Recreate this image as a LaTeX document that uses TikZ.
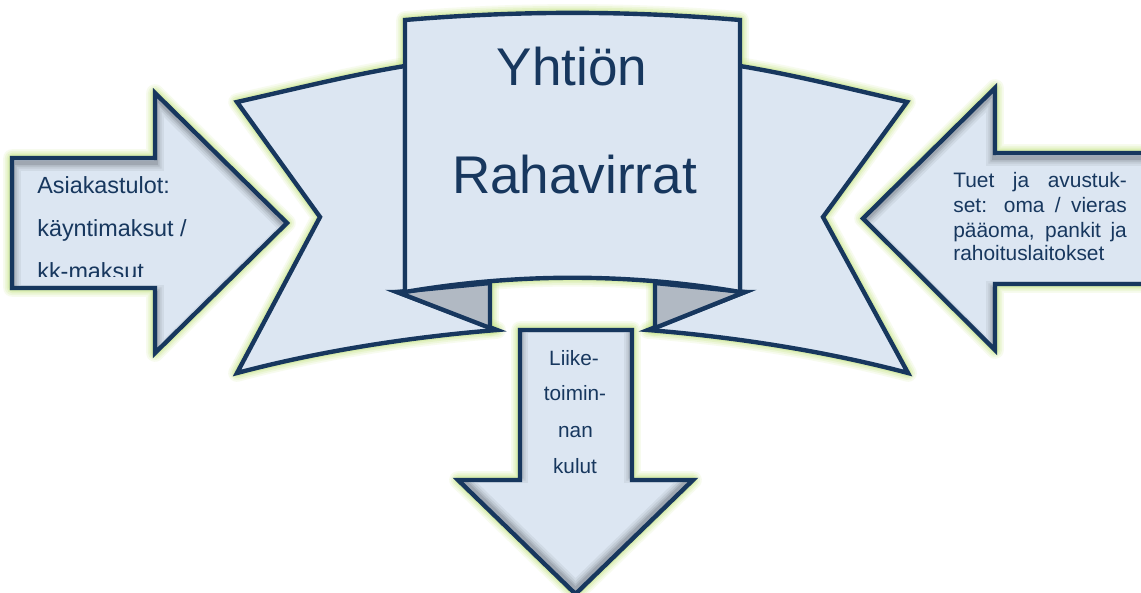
\documentclass[tikz,border=0pt]{standalone}
\usepackage{fontspec}
\setmainfont{Liberation Sans}
\definecolor{navy}{HTML}{17375E}
\definecolor{paleblue}{HTML}{DCE6F2}
\definecolor{foldgray}{HTML}{B1B9C3}
\definecolor{glowgreen}{HTML}{C8E58A}
\definecolor{shadowgray}{HTML}{3A3F47}
\newcommand\myglow[1]{%
  \foreach \w/\o in {10/0.14,8/0.18,6/0.25,4/0.4}{%
    \draw[glowgreen, line join=round, opacity=\o, line width=\w pt] #1;}}
\newcommand\myshadow[2]{%
  \begin{scope}
    \clip #1;
    \foreach \w/\o in {9/0.07,6.5/0.09,4.2/0.12,2.2/0.15}{%
      \draw[shadowgray, line join=miter, opacity=\o, line width=\w pt, shift={#2}] #1;}
  \end{scope}}
\tikzset{
  shapeline/.style={draw=navy, line width=2.5pt, line join=miter},
  shapefill/.style={fill=paleblue},
  foldfill/.style={fill=foldgray},
  titletext/.style={inner sep=0pt, text=navy, font=\fontsize{30.2pt}{36pt}\selectfont},
  lefttext/.style={inner sep=0pt, text=navy, font=\fontsize{13.3pt}{15pt}\selectfont},
  righttext/.style={inner sep=0pt, text=navy, font=\fontsize{11.9pt}{14pt}\selectfont},
  downtext/.style={inner sep=0pt, text=navy, font=\fontsize{11.8pt}{14pt}\selectfont}
}
\begin{document}
\begin{tikzpicture}[x=0.02cm,y=-0.02cm]
\clip (0,0) rectangle (1141,592);
\fill[white] (0,0) rectangle (1141,592);
% banner paths
\def\lwing{(237,102) .. controls (295,89) and (350,75) .. (405,66) -- (405,292) -- (397,292) -- (497,330) .. controls (410,337) and (320,351) .. (237,373) -- (320,217) -- cycle}
\def\rwing{(740,66) .. controls (795,75) and (850,89) .. (907,102) -- (823,217) -- (908,373) .. controls (825,351) and (735,337) .. (648,330) -- (745,292) -- (740,292) -- cycle}
\def\lfold{(397,292) -- (490,283) -- (490,328) -- cycle}
\def\rfold{(745,292) -- (655,283) -- (655,328) -- cycle}
\def\panel{(405,20) .. controls (517,10.5) and (628,10.5) .. (740,20) -- (740,292) .. controls (628,273) and (517,273) .. (405,292) -- cycle}
% arrow paths
\def\larr{(12,158) -- (155,158) -- (155,93) -- (287,223) -- (155,353) -- (155,288) -- (12,288) -- cycle}
\def\rarr{(1170,153) -- (995,153) -- (995,88) -- (863,218.5) -- (995,350) -- (995,284) -- (1170,284) -- cycle}
\def\darr{(520,330) -- (632,330) -- (632,480) -- (693,480) -- (575.5,594) -- (458,480) -- (520,480) -- cycle}
% banner glow (as one group)
\myglow{\lwing}
\myglow{\rwing}
\myglow{\lfold}
\myglow{\rfold}
\myglow{\panel}
% banner shapes
\path[shapefill, shapeline] \lwing;
\path[shapefill, shapeline] \rwing;
\path[foldfill, shapeline] \lfold;
\path[foldfill, shapeline] \rfold;
\path[shapefill, shapeline] \panel;
\node[titletext, anchor=base] (title1) at (572,85) {Yhtiön};
\node[titletext, anchor=base] (title2) at (574.5,193) {Rahavirrat};
% left arrow
\myglow{\larr}
\path[shapefill] \larr;
\myshadow{\larr}{(1,5)}
\path[shapeline] \larr;
\begin{scope}
  \clip (14,160) rectangle (300,276);
  \node[lefttext, anchor=base west] (left1) at (37,193) {Asiakastulot:};
  \node[lefttext, anchor=base west] (left2) at (37,236.5) {käyntimaksut /};
  \node[lefttext, anchor=base west] (left3) at (37,279.5) {kk-maksut};
\end{scope}
% right arrow
\myglow{\rarr}
\path[shapefill] \rarr;
\myshadow{\rarr}{(-1,5)}
\path[shapeline] \rarr;
\node[righttext, anchor=base west] (right1) at (953,187) {\makebox[3.47cm][s]{Tuet ja avustuk-}};
\node[righttext, anchor=base west] (right2) at (953,212) {\makebox[3.47cm][s]{set: oma / vieras}};
\node[righttext, anchor=base west] (right3) at (953,237) {\makebox[3.47cm][s]{pääoma, pankit ja}};
\node[righttext, anchor=base west] (right4) at (953,260.5) {rahoituslaitokset};
% down arrow
\myglow{\darr}
\path[shapefill] \darr;
\myshadow{\darr}{(0,-5)}
\path[shapeline] \darr;
\node[downtext, anchor=base] (down1) at (574,365) {Liike-};
\node[downtext, anchor=base] (down2) at (575,400) {toimin-};
\node[downtext, anchor=base] (down3) at (575.5,437) {nan};
\node[downtext, anchor=base] (down4) at (575,473) {kulut};
\end{tikzpicture}
\end{document}
